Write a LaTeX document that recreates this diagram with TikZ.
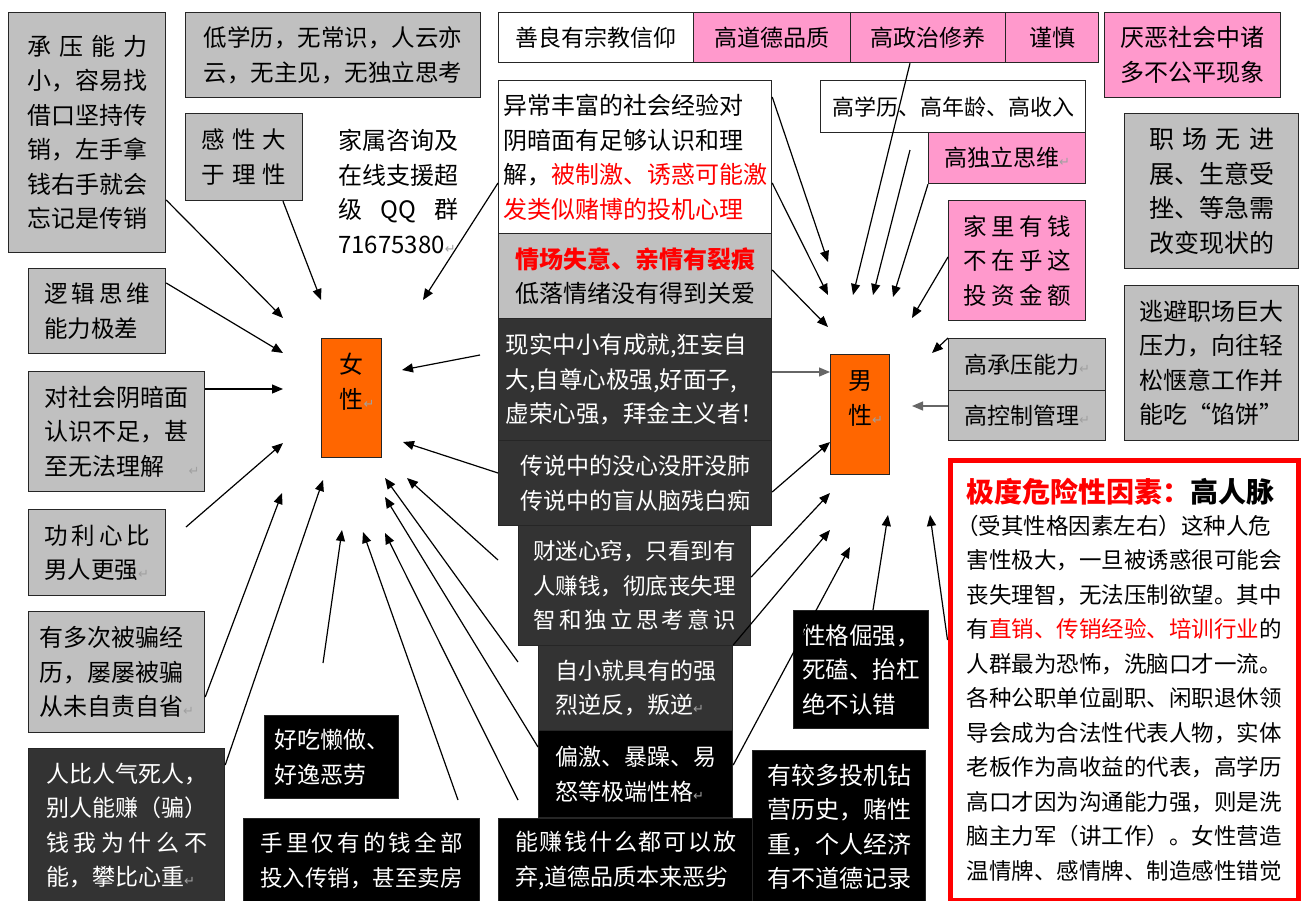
\documentclass[tikz,border=0pt]{standalone}
\usepackage{fontspec}
\setmainfont{Noto Sans CJK SC}
\newfontfamily\dvfont{DejaVu Sans}
\usetikzlibrary{arrows.meta}
\definecolor{boxgray}{HTML}{C0C0C0}
\definecolor{boxpink}{HTML}{FF99CC}
\definecolor{boxdark}{HTML}{333333}
\definecolor{boxorange}{HTML}{FF6600}
\definecolor{retgray}{HTML}{A0A0A0}
\newcommand\fs[1]{\fontsize{#1}{34.5}\selectfont}
\newcommand\ret{{\dvfont\fontsize{13}{13}\selectfont\textcolor{retgray}{↵}}}
\newcommand\spr[2]{\makebox[#1em][s]{#2}}
\newcommand\Bx[7]{\node[#1,minimum width={(#5)-(#3)},minimum height={(#6)-(#4)}] (#2) at (#3,#4) {#7};}
\tikzset{
 bx/.style={draw=black!85,line width=1.2pt,anchor=north west,inner sep=0pt,align=left,font=\fs{23}},
 gr/.style={bx,fill=boxgray},
 pk/.style={bx,fill=boxpink},
 wh/.style={bx,fill=white},
 dk/.style={bx,fill=boxdark,text=white},
 bk/.style={bx,fill=black,text=white},
 orn/.style={bx,fill=boxorange,align=center,font=\fs{24}},
 redbox/.style={bx,draw=red,line width=5pt,fill=white},
 plain/.style={anchor=north west,inner sep=0pt,align=left,font=\fs{24}},
 ar/.style={-{Triangle[length=11pt,width=9pt]},line width=1.2pt,black},
 arg/.style={ar,black!60},
}
\begin{document}
\begin{tikzpicture}[x=1pt,y=-1pt]
\fill[white] (0,0) rectangle (1301,900);
\useasboundingbox (0,0) rectangle (1301,900);
% left column
\Bx{gr,font=\fs{24}}{L1}{8}{12}{165}{252}{\spr{5}{承\hfill 压\hfill 能\hfill 力}\\小，容易找\\借口坚持传\\销，左手拿\\钱右手就会\\忘记是传销}
\Bx{gr,font=\fs{23.5}}{L2}{185}{12}{480}{97}{低学历，无常识，人云亦\\云，无主见，无独立思考}
\Bx{gr,font=\fs{23.5}}{L3}{185}{113}{302}{200}{\spr{3.6}{感\hfill 性\hfill 大}\\\spr{3.6}{于\hfill 理\hfill 性}}
\node[plain] (qq) at (338,129) {家属咨询及\\在线支援超\\\spr{5}{级\hfill QQ\hfill 群}\\71675380\ret};
\Bx{gr,font=\fs{23.5}}{L5}{28}{268}{165}{353}{\spr{4.5}{逻\hfill 辑\hfill 思\hfill 维}\\能力极差}
\Bx{gr,font=\fs{24}}{L6}{28}{371}{204}{491}{对社会阴暗面\\认识不足，甚\\\makebox[6em][l]{至无法理解}\rlap{\ret}}
\Bx{gr,font=\fs{23.5}}{L7}{28}{509}{165}{595}{\spr{4.5}{功\hfill 利\hfill 心\hfill 比}\\男人更强\ret}
\Bx{gr,font=\fs{24}}{L8}{28}{611}{204}{732}{有多次被骗经\\历，屡屡被骗\\从未自责自省\ret}
\Bx{dk,font=\fs{23}}{L9}{28}{748}{224}{902}{人比人气死人，\\别人能赚（骗）\\\spr{7}{钱\hfill 我\hfill 为\hfill 什\hfill 么\hfill 不}\\能，攀比心重\ret}
% bottom middle
\Bx{bk,font=\fs{23}}{M1}{264}{715}{398}{798}{好吃懒做、\\好逸恶劳}
\Bx{bk,font=\fs{22.5}}{M2}{243}{818}{479}{902}{\spr{9}{手\hfill 里\hfill 仅\hfill 有\hfill 的\hfill 钱\hfill 全\hfill 部}\\投入传销，甚至卖房}
% top row
\Bx{wh}{T1}{498}{12}{693}{62}{善良有宗教信仰}
\Bx{pk}{T2}{693}{12}{850}{62}{高道德品质}
\Bx{pk}{T3}{850}{12}{1005}{62}{高政治修养}
\Bx{pk}{T4}{1005}{12}{1098}{62}{谨慎}
% centre column
\Bx{wh,font=\fs{24}}{C1}{498}{80}{771}{233}{异常丰富的社会经验对\\阴暗面有足够认识和理\\解，\textcolor{red}{被制激、诱惑可能激}\\\textcolor{red}{发类似赌博的投机心理}}
\Bx{gr,font=\fs{24}}{C2}{498}{233}{771}{318}{\textbf{\textcolor{red}{情场失意、亲情有裂痕}}\\低落情绪没有得到关爱}
\Bx{dk,font=\fs{23.5}}{C3}{498}{318}{771}{440}{现实中小有成就,狂妄自\\大,自尊心极强,好面子,\\虚荣心强，拜金主义者！}
\Bx{dk}{C4}{498}{440}{771}{525}{传说中的没心没肝没肺\\传说中的盲从脑残白痴}
\Bx{dk,font=\fs{22.5}}{C5}{518}{525}{750}{645}{财迷心窍，只看到有\\人赚钱，彻底丧失理\\\spr{9}{智\hfill 和\hfill 独\hfill 立\hfill 思\hfill 考\hfill 意\hfill 识}}
\Bx{dk}{C6}{538}{645}{732}{730}{自小就具有的强\\烈逆反，叛逆\ret}
\Bx{bk}{C7}{538}{730}{732}{817}{偏激、暴躁、易\\怒等极端性格\ret}
\Bx{bk}{C8}{498}{818}{752}{902}{\spr{9.6}{能\hfill 赚\hfill 钱\hfill 什\hfill 么\hfill 都\hfill 可\hfill 以\hfill 放}\\弃,道德品质本来恶劣}
\Bx{bk,font=\fs{24}}{C9}{752}{750}{925}{902}{有较多投机钻\\营历史，赌性\\重，个人经济\\有不道德记录}
\Bx{bk,font=\fs{23.5}}{C10}{793}{610}{928}{728}{性格倔强，\\死磕、抬杠\\绝不认错}
% right side
\Bx{wh,font=\fs{22}}{R1}{820}{80}{1085}{132}{高学历、高年龄、高收入}
\Bx{pk}{R2}{928}{132}{1085}{183}{高独立思维\ret}
\Bx{pk,font=\fs{23.5}}{R3}{948}{200}{1085}{320}{\spr{4.6}{家\hfill 里\hfill 有\hfill 钱}\\\spr{4.6}{不\hfill 在\hfill 乎\hfill 这}\\\spr{4.6}{投\hfill 资\hfill 金\hfill 额}}
\Bx{gr}{R4a}{948}{338}{1105}{390}{高承压能力\ret}
\Bx{gr}{R4b}{948}{390}{1105}{440}{高控制管理\ret}
\Bx{pk,font=\fs{24}}{R5}{1104}{12}{1280}{97}{厌恶社会中诸\\多不公平现象}
\Bx{gr,font=\fs{25}}{R6}{1124}{113}{1298}{268}{\spr{5}{职\hfill 场\hfill 无\hfill 进}\\展、生意受\\挫、等急需\\改变现状的}
\Bx{gr,font=\fs{24}}{R7}{1124}{285}{1298}{440}{逃避职场巨大\\压力，向往轻\\松惬意工作并\\能吃“馅饼”}
\Bx{redbox,font=\fs{22.5}}{R8}{947.5}{457.5}{1295.5}{897.5}{{\fontsize{28}{34}\selectfont\bfseries\textcolor{red}{极度危险性因素：}高人脉}\\[-3pt]\hspace*{-0.45em}（受其性格因素左右）这种人危\\害性极大，一旦被诱惑很可能会\\丧失理智，无法压制欲望。其中\\有\textcolor{red}{直销、传销经验、培训行业}的\\人群最为恐怖，洗脑口才一流。\\各种公职单位副职、闲职退休领\\导会成为合法性代表人物，实体\\老板作为高收益的代表，高学历\\高口才因为沟通能力强，则是洗\\脑主力军（讲工作）。女性营造\\温情牌、感情牌、制造感性错觉}
% the two centres
\Bx{orn}{W}{321}{338}{381}{457}{女\\性\rlap{\ret}\\~}
\Bx{orn}{M}{830}{354}{889}{474}{男\\性\rlap{\ret}\\~}
% free ends
\coordinate (sf) at (186,527);
\coordinate (si) at (323,663);
\coordinate (sj) at (458,800);
\coordinate (sk) at (518,800);
\coordinate (sm) at (518,662);
\coordinate (sn) at (498,560);
\coordinate (sp) at (480,355);
\coordinate (se) at (910,150);
\coordinate (wa) at (283,318);
\coordinate (wb) at (321,300);
\coordinate (wc) at (423,300);
\coordinate (wd) at (283,353);
\coordinate (we) at (283,389);
\coordinate (wf) at (283,443);
\coordinate (wg) at (282,493);
\coordinate (wh) at (323,480);
\coordinate (wi) at (342,530);
\coordinate (wj) at (363,532);
\coordinate (wk) at (385,533);
\coordinate (wl) at (385,497);
\coordinate (wm) at (385,478);
\coordinate (wn) at (407,478);
\coordinate (wo) at (403,442);
\coordinate (wp) at (402,370);
\coordinate (ma) at (828,262);
\coordinate (mb) at (828,295);
\coordinate (mc) at (828,327);
\coordinate (md) at (853,295);
\coordinate (me) at (873,295);
\coordinate (mf) at (893,297);
\coordinate (mg) at (912,318);
\coordinate (mh) at (932,353);
\coordinate (mi) at (912,406);
\coordinate (ml) at (830,493);
\coordinate (mm) at (830,530);
\coordinate (mn) at (850,547);
\coordinate (mo) at (888,515);
\coordinate (mp) at (930,515);
% arrows to the woman
\draw[ar] (L1.east |- 0,200) -- (wa);
\draw[ar] (L3.south -| 283,0) -- (wb);
\draw[ar] (C1.west |- 0,183) -- (wc);
\draw[ar] (L5.east |- 0,283) -- (wd);
\draw[ar] (L6.east |- 0,389) -- (we);
\draw[ar] (sf) -- (wf);
\draw[ar] (L8.east |- 0,697) -- (wg);
\draw[ar] (L9.east |- 0,765) -- (wh);
\draw[ar] (si) -- (wi);
\draw[ar] (sj) -- (wj);
\draw[ar] (sk) -- (wk);
\draw[ar] (C7.west |- 0,747) -- (wl);
\draw[ar] (sm) -- (wm);
\draw[ar] (sn) -- (wn);
\draw[ar] (C4.west |- 0,473) -- (wo);
\draw[ar] (sp) -- (wp);
% arrows to the man
\draw[ar] (C1.east |- 0,97) -- (ma);
\draw[ar] (C1.east |- 0,183) -- (mb);
\draw[ar] (C2.east |- 0,270) -- (mc);
\draw[ar] (T3.south -| 910,0) -- (md);
\draw[ar] (se) -- (me);
\draw[ar] (R2.south west) -- (mf);
\draw[ar] (R3.west |- 0,257) -- (mg);
\draw[ar] (R4a.north west) -- (mh);
\draw[arg] (R4b.west |- 0,406) -- (mi);
\draw[arg] (C3.east |- 0,372) -- (M.west |- 0,372);
\draw[ar] (C4.east |- 0,492) -- (M.west |- 0,442);
\draw[ar] (C5.east |- 0,577) -- (ml);
\draw[ar] (C6.north east) -- (mm);
\draw[ar] (C7.east |- 0,765) -- (mn);
\draw[ar] (C10.north -| 873,0) -- (mo);
\draw[ar] (R8.west |- 0,640) -- (mp);
\end{tikzpicture}
\end{document}
